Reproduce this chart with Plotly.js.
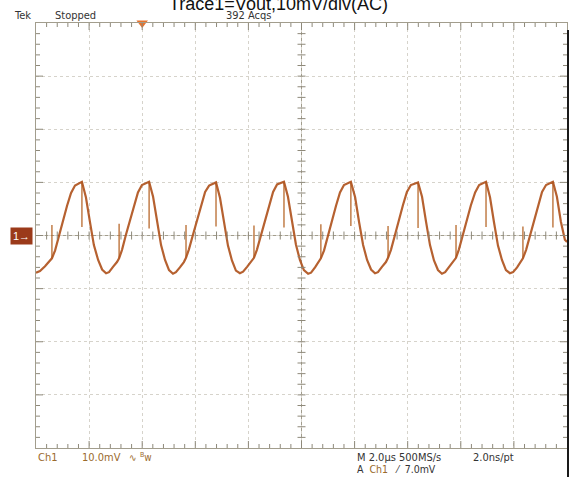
<!DOCTYPE html>
<html>
<head>
<meta charset="utf-8">
<script src="https://cdn.plot.ly/plotly-3.0.1.min.js"></script>
<style>html,body{margin:0;padding:0;background:#fff;}#chart{width:569px;height:477px;}</style>
</head>
<body>
<div id="chart"></div>
<script>
// Time in microseconds (trigger at 0), voltage in mV (10 mV/div, 2 us/div)
var waveT = [
-4.00,-3.85,-3.66,-3.51,-3.40,-3.28,-3.13,-2.98,-2.83,-2.68,-2.53,-2.27,
-2.12,-1.97,-1.82,-1.66,-1.51,-1.36,-1.25,-1.10,-0.95,-0.87,
-0.76,-0.61,-0.46,-0.31,-0.16,-0.01,0.26,
0.41,0.56,0.71,0.86,1.01,1.16,1.27,1.42,1.57,1.65,
1.76,1.91,2.06,2.22,2.37,2.52,2.78,
2.93,3.08,3.23,3.38,3.53,3.68,3.80,3.95,4.10,4.21,
4.32,4.47,4.63,4.78,4.93,5.08,5.34,
5.49,5.64,5.79,5.94,6.09,6.25,6.36,6.51,6.66,6.73,
6.85,7.00,7.15,7.30,7.45,7.60,7.86,
8.02,8.17,8.32,8.47,8.62,8.77,8.88,9.03,9.18,9.26,
9.37,9.52,9.67,9.82,9.97,10.12,10.39,
10.54,10.69,10.84,10.99,11.14,11.29,11.41,11.56,11.71,11.82,
11.93,12.08,12.23,12.38,12.54,12.69,12.95,
13.10,13.25,13.40,13.55,13.70,13.85,13.97,14.12,14.27,14.34,
14.46,14.61,14.76,14.91,15.06,15.21,15.47,
15.62,15.77,15.92,16.00];
var waveV = [
-7.0,-6.7,-5.8,-4.9,-4.3,-2.8,0.1,2.9,5.6,8.0,9.4,10.1,
7.2,2.6,-1.8,-4.6,-6.4,-7.1,-6.9,-5.9,-5.0,-4.3,
-2.7,0.2,2.9,5.7,8.1,9.5,10.1,
7.3,2.5,-1.8,-4.6,-6.5,-7.2,-6.9,-6.0,-5.0,-4.2,
-2.6,0.1,2.8,5.7,8.2,9.4,10.0,
7.1,2.4,-1.9,-4.7,-6.6,-7.1,-6.8,-5.9,-4.9,-4.2,
-2.7,0.0,2.9,5.8,8.2,9.6,10.1,
7.3,2.6,-1.7,-4.6,-6.5,-7.2,-7.0,-6.0,-5.0,-4.3,
-2.8,0.1,2.9,5.6,8.1,9.5,10.1,
7.2,2.5,-1.8,-4.6,-6.4,-7.1,-6.9,-5.9,-5.0,-4.2,
-2.7,0.1,3.0,5.7,8.2,9.5,10.0,
7.3,2.6,-1.8,-4.7,-6.5,-7.2,-6.9,-5.9,-4.9,-4.2,
-2.6,0.2,2.9,5.7,8.1,9.5,10.1,
7.2,2.5,-1.9,-4.6,-6.5,-7.1,-6.9,-6.0,-5.0,-4.3,
-2.7,0.1,2.9,5.6,8.2,9.5,10.1,
7.3,2.6,-0.8,-1.2];

// switching spikes at the peaks (downward) and on the rising edges (upward)
var peakSpikeT = [-2.27,0.26,2.78,5.34,7.86,10.39,12.95,15.47];
var peakSpikeTop = [10.1,10.1,10.0,10.1,10.1,10.0,10.1,10.1];
var peakSpikeBottom = [1.6,1.3,1.7,1.5,1.8,1.4,1.6,1.5];
var edgeSpikeT = [-3.40,-0.87,1.65,4.21,6.73,9.26,11.82,14.34];
var edgeSpikeBottom = [-4.3,-4.3,-4.2,-4.2,-4.3,-4.2,-4.2,-4.3];
var edgeSpikeTop = [2.0,2.2,2.0,1.9,2.1,1.8,2.0,1.7];

var triggerT = [0];
var xRange = [-4, 16];   // 10 divisions of 2 us
var yRange = [-40, 40];  // 8 divisions of 10 mV
var xDiv = 2, yDiv = 10, minorPerDiv = 5;

function segs(ts, a, b) {
  var x = [], y = [];
  for (var i = 0; i < ts.length; i++) { x.push(ts[i], ts[i], null); y.push(a[i], b[i], null); }
  return {x: x, y: y};
}
var ps = segs(peakSpikeT, peakSpikeTop, peakSpikeBottom);
var es = segs(edgeSpikeT, edgeSpikeBottom, edgeSpikeTop);

var W = 569, H = 477, L = 36, R = 2, T = 23, B = 29;
var pw = W - L - R, ph = H - T - B;
function px(x) { return (x - L) / pw; }
function py(y) { return (H - B - y) / ph; }

var gridC = '#a29d8d';
var tickC = '#8e897a';
var shapes = [];
function tick(xref, yref, x0, x1, y0, y1) {
  shapes.push({type:'line', xref:xref, yref:yref, x0:x0, x1:x1, y0:y0, y1:y1, line:{color:tickC, width:1}, layer:'above'});
}
// graticule: centre cross lines
var xMid = (xRange[0]+xRange[1])/2, yMid = (yRange[0]+yRange[1])/2;
shapes.push({type:'line', xref:'paper', yref:'y', x0:0, x1:1, y0:yMid, y1:yMid, line:{color:gridC, width:1}, layer:'below'});
shapes.push({type:'line', xref:'x', yref:'paper', x0:xMid, x1:xMid, y0:0, y1:1, line:{color:gridC, width:1}, layer:'below'});
// graticule ticks
var nx = (xRange[1]-xRange[0]) / xDiv * minorPerDiv;
for (var i = 1; i < nx; i++) {
  var t = xRange[0] + i * xDiv / minorPerDiv;
  var major = (i % minorPerDiv === 0);
  var lb = (major ? 7 : 4) / ph;
  tick('x', 'paper', t, t, 1, 1 - lb);
  tick('x', 'paper', t, t, 0, lb);
  tick('x', 'paper', t, t, 0.5 - 4/ph, 0.5 + 4/ph);
}
var ny = (yRange[1]-yRange[0]) / yDiv * minorPerDiv;
for (var j = 1; j < ny; j++) {
  var v = yRange[0] + j * yDiv / minorPerDiv;
  var majorY = (j % minorPerDiv === 0);
  var lw = (majorY ? 7 : 4) / pw;
  tick('paper', 'y', 0, lw, v, v);
  tick('paper', 'y', 1, 1 - lw, v, v);
  tick('paper', 'y', 0.5 - 4/pw, 0.5 + 4/pw, v, v);
}
// dark strip at the right edge of the screenshot
shapes.push({type:'line', xref:'paper', yref:'paper', x0:1 + 1/pw, x1:1 + 1/pw, y0:py(30), y1:py(477), line:{color:'#1a1a1a', width:2}});

var traces = [
  {type:'scatter', mode:'lines', x: ps.x, y: ps.y, line:{color:'#b8692c', width:1.3}, hoverinfo:'skip', showlegend:false},
  {type:'scatter', mode:'lines', x: es.x, y: es.y, line:{color:'#b8692c', width:1.3}, hoverinfo:'skip', showlegend:false},
  {type:'scatter', mode:'lines', x: waveT, y: waveV, line:{color:'#b0541f', width:2.2}, opacity:0.92, hoverinfo:'skip', showlegend:false},
  {type:'scatter', mode:'markers', x: triggerT, y: [yRange[1]], marker:{symbol:'triangle-down', size:10, color:'#e8732c'}, cliponaxis:false, hoverinfo:'skip', showlegend:false}
];

var txtFont = 'Liberation Sans Narrow, DejaVu Sans Condensed, Arial Narrow, Liberation Sans, sans-serif';
var brown = '#9a6a2c';
function ann(text, x, y, color, size, xanchor) {
  return {text:text, xref:'paper', yref:'paper', x:px(x), y:py(y), xanchor:xanchor||'left', yanchor:'middle', showarrow:false,
    font:{family:txtFont, size:size||10, color:color||'#222'}};
}

var layout = {
  width: W, height: H,
  margin: {l:L, r:R, t:T, b:B, pad:0},
  paper_bgcolor:'#ffffff', plot_bgcolor:'#ffffff',
  showlegend:false,
  xaxis: {range:xRange, tick0:xRange[0], dtick:xDiv, showline:true, mirror:true, linecolor:gridC, linewidth:1,
    ticks:'', showticklabels:false,
    showgrid:true, gridcolor:'#d6d3cb', griddash:'dot', gridwidth:1, zeroline:false, fixedrange:true},
  yaxis: {range:yRange, tick0:yRange[0], dtick:yDiv, showline:true, mirror:true, linecolor:gridC, linewidth:1,
    ticks:'', showticklabels:false,
    showgrid:true, gridcolor:'#d6d3cb', griddash:'dot', gridwidth:1, zeroline:false, fixedrange:true},
  shapes: shapes,
  annotations: [
    {text:'Trace1=Vout,10mV/div(AC)', xref:'paper', yref:'paper', x:px(278), y:py(4), xanchor:'center', yanchor:'middle', showarrow:false,
      font:{family:'Liberation Sans, Arial, sans-serif', size:18, color:'#111'}},
    ann('Tek', 12, 15, '#333', 11),
    ann('Stopped', 53, 15, '#333', 11),
    ann('392 Acqs', 224, 15, '#333', 11),
    {text:'1→', xref:'paper', yref:'paper', x:px(21), y:py(236), xanchor:'center', yanchor:'middle', showarrow:false,
      bgcolor:'#9b3a1a', borderpad:2, font:{family:'Liberation Sans, sans-serif', size:11, color:'#fff'}},
    ann('Ch1', 36, 457, brown, 11),
    ann('10.0mV', 80, 457, brown, 11),
    ann('∿', 127, 457, brown, 10),
    ann('<sup>B</sup>w', 138, 457, brown, 10),
    ann('M 2.0µs 500MS/s', 355, 457, '#333', 11),
    ann('2.0ns/pt', 471, 457, '#333', 11),
    ann('A  <span style="color:' + brown + '">Ch1</span>   ⁄  7.0mV', 355, 469, '#333', 10.5)
  ]
};

Plotly.newPlot('chart', traces, layout, {staticPlot:true, displayModeBar:false});
</script>
</body>
</html>
